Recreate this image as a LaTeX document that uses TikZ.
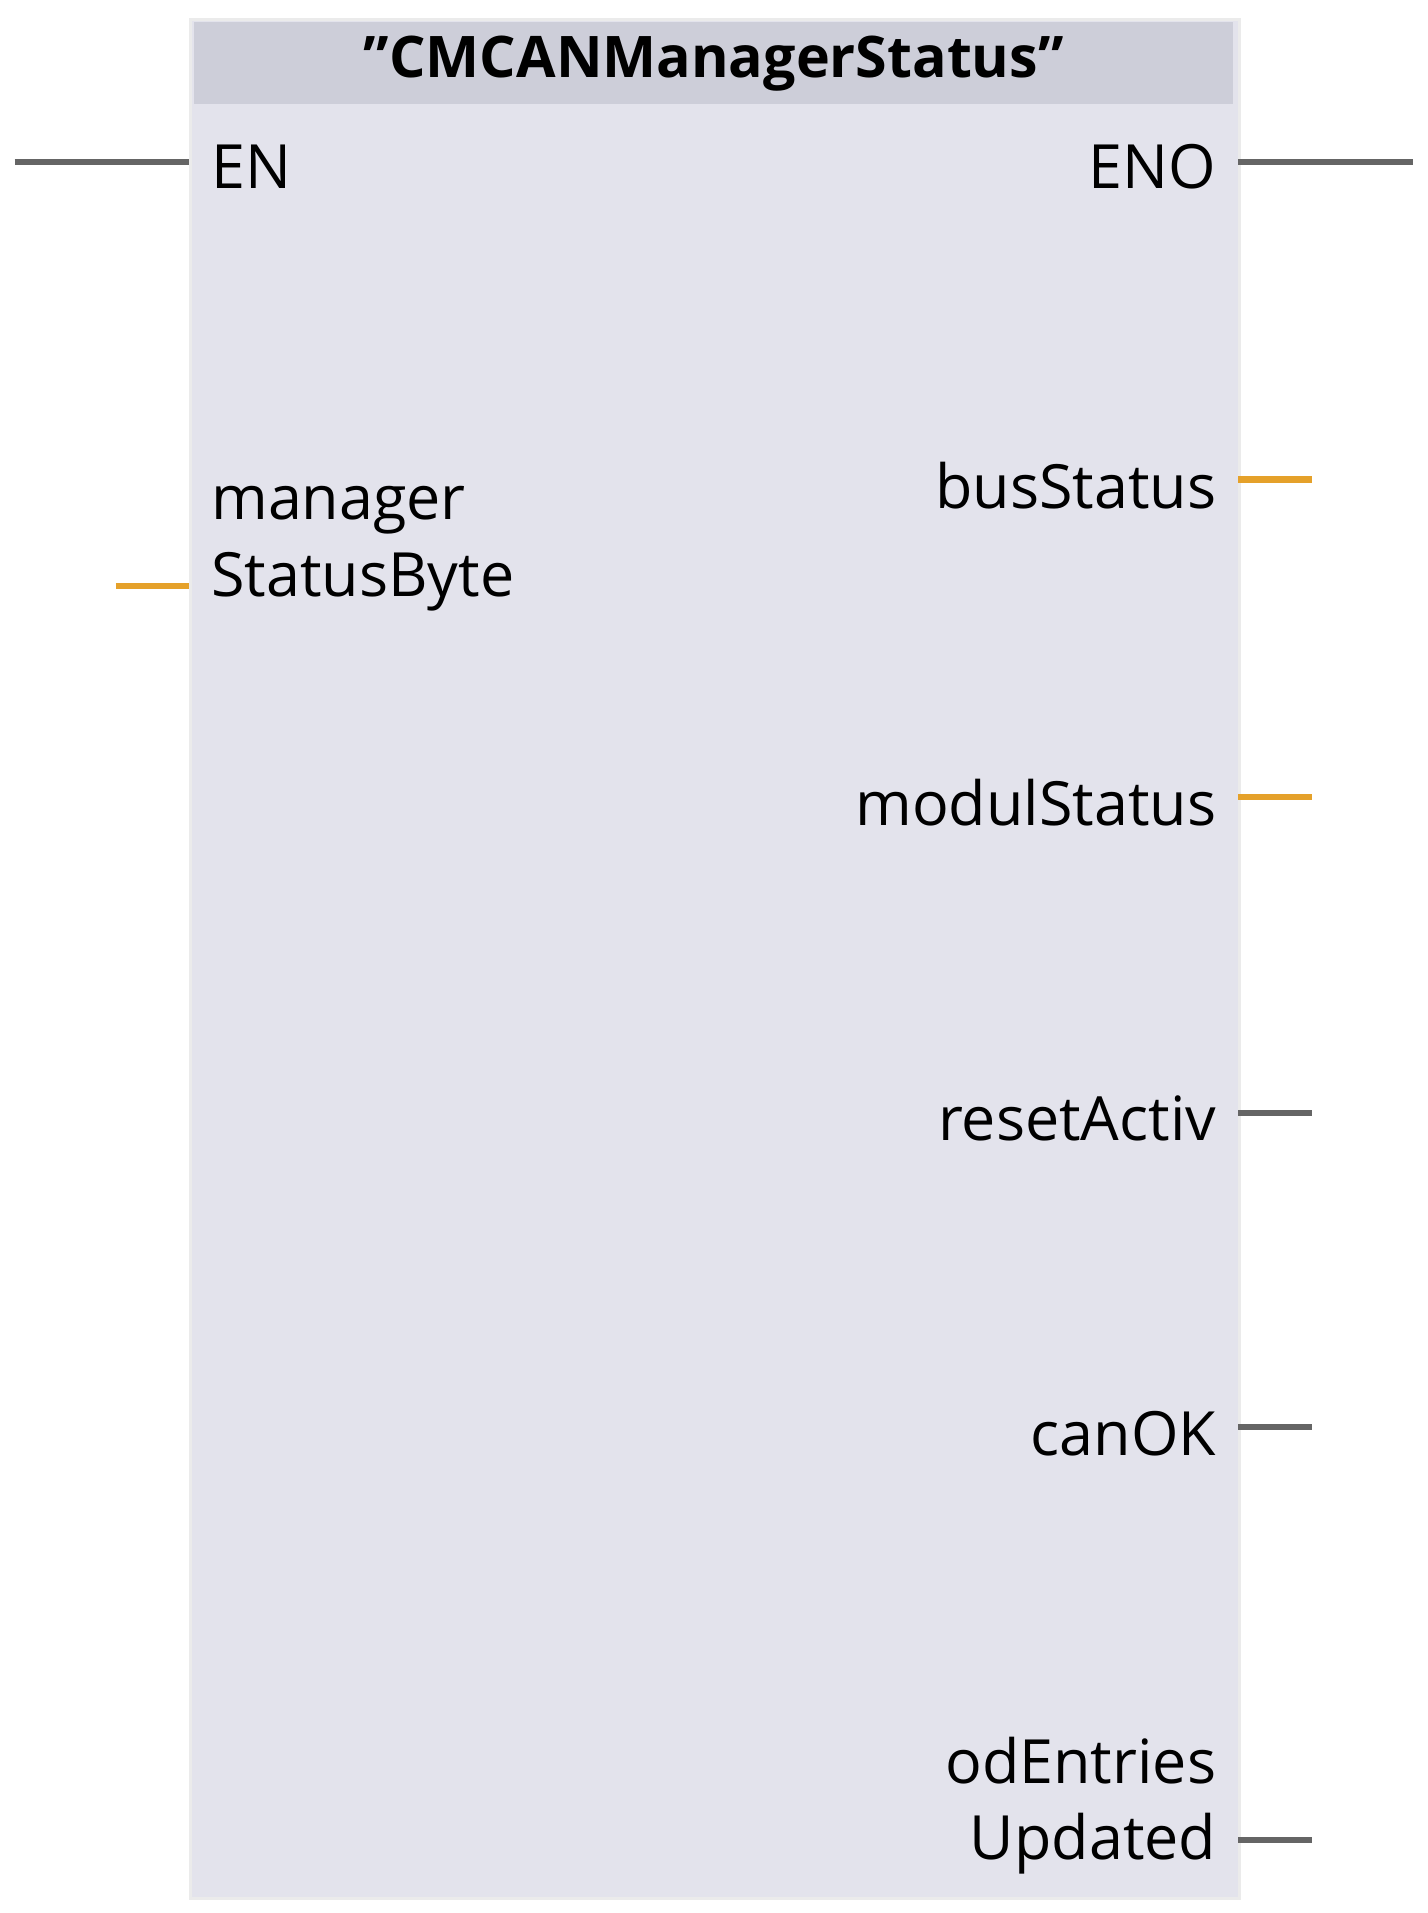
\documentclass[tikz,border=0pt]{standalone}
\usepackage{fontspec}
\setmainfont{Open Sans}
\definecolor{body}{HTML}{E3E3EC}
\definecolor{head}{HTML}{CDCED9}
\definecolor{wg}{HTML}{656565}
\definecolor{wo}{HTML}{E5A12A}
\begin{document}
\begin{tikzpicture}[x=1pt,y=-1pt,
  lbl/.style={font=\fontsize{50}{63}\selectfont,inner sep=0pt},
  wire/.style={line width=5pt,draw=wg},
  owire/.style={line width=5pt,draw=wo}]
\useasboundingbox (0,0) rectangle (1170,1568);
\fill[white] (0,0) rectangle (1170,1568);
\node[draw=black!8,line width=2pt,fill=body,minimum width=860pt,minimum height=1540pt,anchor=north west,inner sep=0pt] (box) at (155,15) {};
\fill[head] (159,18) rectangle (1011,85);
\node[font=\bfseries\fontsize{47}{56}\selectfont] (title) at (585,52) {\symbol{34}CMCANManagerStatus\symbol{34}};
\coordinate (enl) at (12,133); \coordinate (enr) at (155,133);
\coordinate (enol) at (1015,133); \coordinate (enor) at (1158,133);
\draw[wire] (enl) -- (enr); \draw[wire] (enol) -- (enor);
\node[lbl,anchor=west] (en) at (173,137) {EN};
\node[lbl,anchor=east] (eno) at (997,137) {ENO};
\node[lbl,anchor=west,align=left] (msb) at (173,450) {manager\\StatusByte};
\coordinate (a1) at (95,480); \coordinate (a2) at (155,480); \draw[owire] (a1) -- (a2);
\foreach \n/\y/\t/\s in {bs/393/busStatus/owire,ms/653/modulStatus/owire,ra/912/resetActiv/wire,co/1170/canOK/wire}{
  \node[lbl,anchor=east] (\n) at (997,\y+5) {\t};
  \coordinate (\n a) at (1015,\y); \coordinate (\n b) at (1075,\y);
  \draw[\s] (\n a) -- (\n b);}
\node[lbl,anchor=east,align=right] (od) at (997,1480) {odEntries\\Updated};
\coordinate (oda) at (1015,1508); \coordinate (odb) at (1075,1508);
\draw[wire] (oda) -- (odb);
\end{tikzpicture}
\end{document}
